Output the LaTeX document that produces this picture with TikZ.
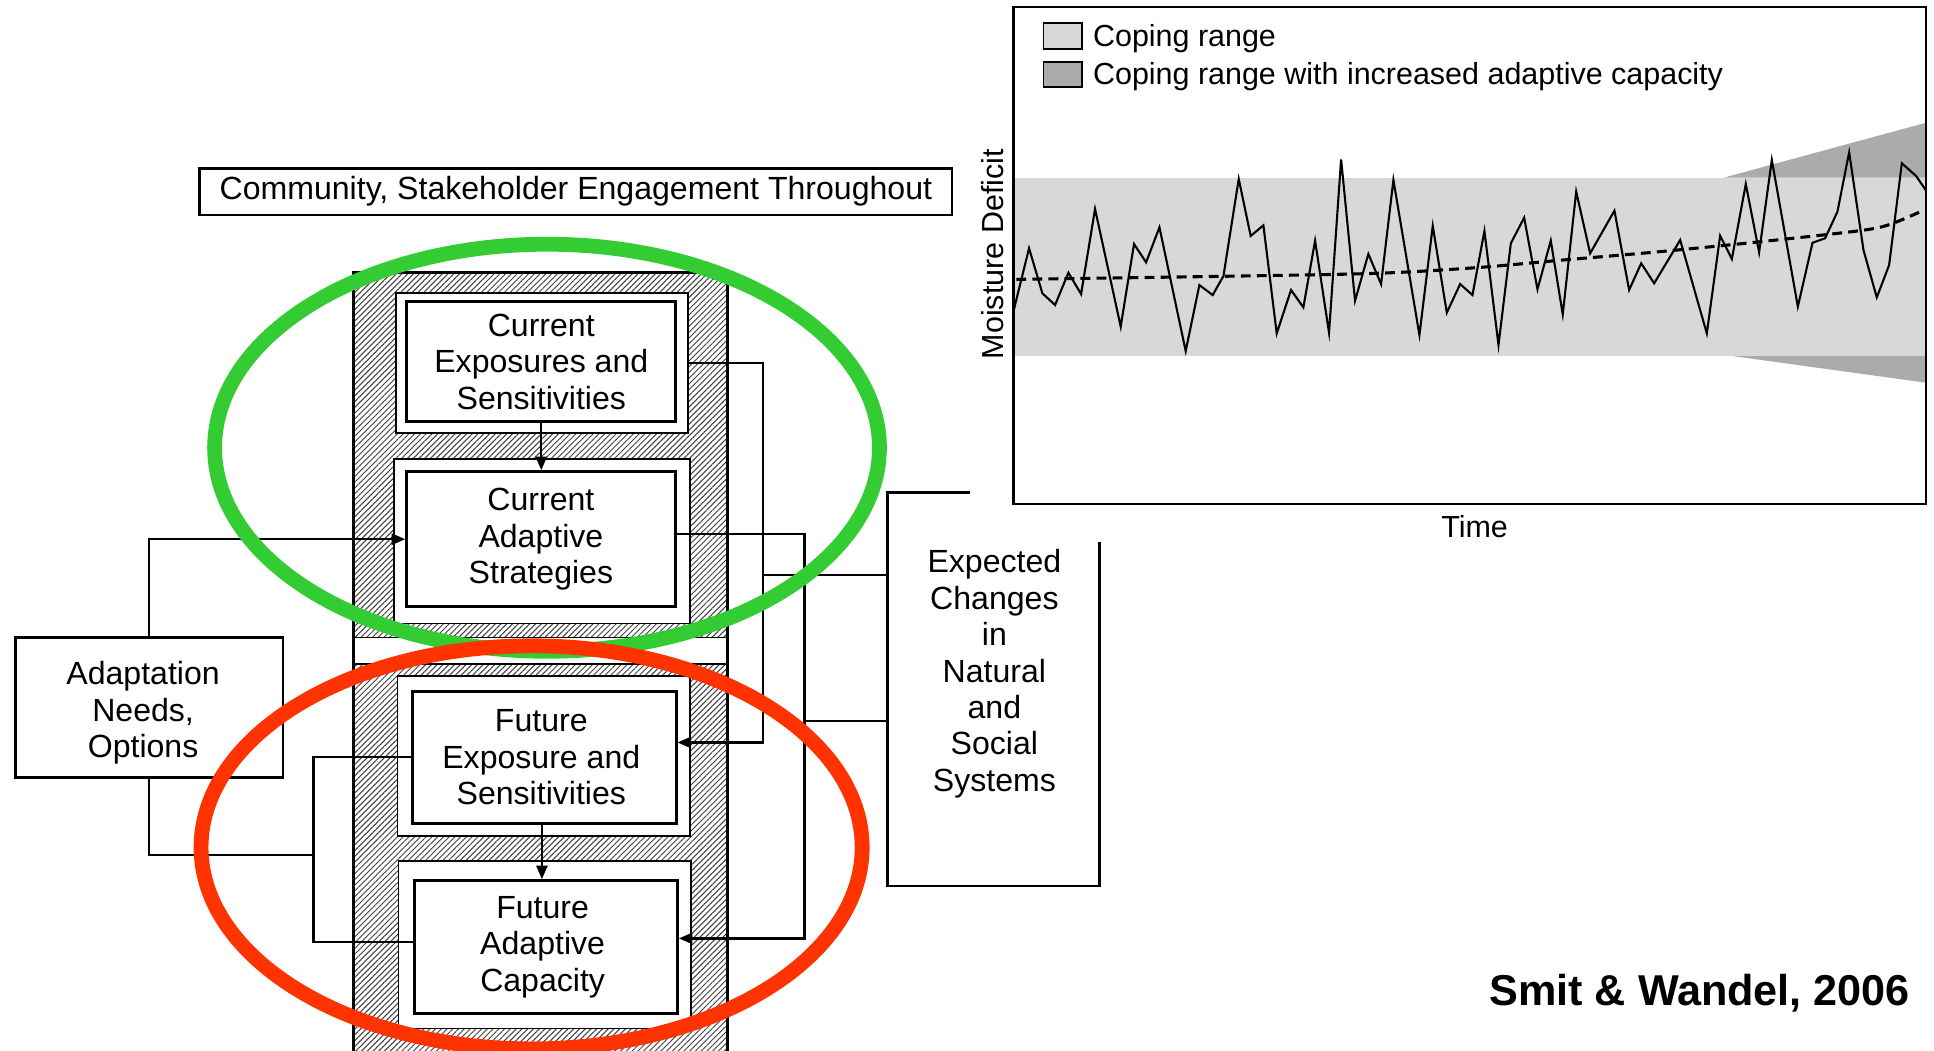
\documentclass[tikz,border=0pt]{standalone}
\usepackage{fontspec}
\setmainfont{Liberation Sans}
\usetikzlibrary{arrows.meta,patterns.meta,calc}
\definecolor{bandgray}{RGB}{216,216,216}
\definecolor{widegray}{RGB}{171,171,171}
\definecolor{ringgreen}{RGB}{51,204,51}
\definecolor{ringred}{RGB}{255,51,0}
\begin{document}
\begin{tikzpicture}[x=1bp,y=-1bp,
  txt/.style={font=\fontsize{26bp}{29.5bp}\selectfont, align=center, inner sep=0pt},
  panel/.style={draw, line width=1.4bp, fill=white, inner sep=0pt},
  ibox/.style={draw, line width=2.4bp, fill=white, txt},
  conn/.style={line width=1.8bp},
  arr/.style={-{Triangle[length=11bp,width=9bp]}},
  legendtext/.style={font=\fontsize{24.7bp}{28bp}\selectfont, inner sep=0pt}
]
\useasboundingbox (0,0) rectangle (1568,851.3);
\fill[white] (0,0) rectangle (1568,851.3);

% title
\node[draw, line width=2bp, minimum width=610.2bp, minimum height=37.8bp, txt] (title) at (466.9,155.4) {Community, Stakeholder Engagement Throughout};

% hatched column
\path[pattern={Lines[angle=45,distance=3.3bp,line width=0.8bp]}, pattern color=black!75] (286.5,221.1) rectangle (590,860);
\fill[white] (286.5,516.8) rectangle (590,538.5);
\draw[line width=1.4bp] (286.5,516.8) -- (590,516.8) (286.5,538.5) -- (590,538.5);
\draw[line width=2.4bp] (286.5,860) -- (286.5,221.1) -- (590,221.1) -- (590,860);

% panels
\node[panel, minimum width=236.5bp, minimum height=113bp] (p1) at (439.35,294.3) {};
\node[panel, minimum width=240bp, minimum height=133.2bp] (p2) at (439.5,438.8) {};
\node[panel, minimum width=237.3bp, minimum height=129.7bp] (p3) at (440.85,612.95) {};
\node[panel, minimum width=237bp, minimum height=136bp] (p4) at (441.5,765.8) {};

% inner boxes
\node[ibox, minimum width=218.1bp, minimum height=97.3bp] (ce) at (438.85,293.25) {Current\\Exposures and\\Sensitivities};
\node[ibox, minimum width=217.5bp, minimum height=109.5bp] (ca) at (438.55,437.15) {Current\\Adaptive\\Strategies};
\node[ibox, minimum width=213.5bp, minimum height=107.3bp] (fe) at (441.35,613.95) {\hspace*{-5bp}Future\\\hspace*{-5bp}Exposure and\\\hspace*{-5bp}Sensitivities};
\node[ibox, minimum width=213.5bp, minimum height=107.6bp] (fa) at (442.45,767.8) {\hspace*{-5bp}Future\\\hspace*{-5bp}Adaptive\\\hspace*{-5bp}Capacity};

% side boxes
\node[draw, line width=2bp, minimum width=216.5bp, minimum height=113.8bp] (ad) at (121,573.6) {};
\node[txt] (adt) at (116,578) {Adaptation\\Needs,\\Options};
\node[draw, line width=2bp, minimum width=171.8bp, minimum height=319.2bp] (ex) at (805.4,558.8) {};
\node[txt] (ext) at (806.2,546.3) {Expected\\Changes\\in\\Natural\\and\\Social\\Systems};

% helper coordinates
\coordinate (v1) at (618.4,0);
\coordinate (v2) at (652.2,0);
\coordinate (v3) at (254.1,0);
\coordinate (h1) at (0,693.2);
\coordinate (feIn) at ([yshift=12bp]fe.east);
\coordinate (caOut) at ([yshift=4bp]ca.east);
\coordinate (faIn) at ([yshift=7bp]fa.east);
\coordinate (faOut) at ([yshift=4.3bp]fa.west);
\coordinate (exA) at ([yshift=92.6bp]ex.west);
\coordinate (exB) at ([yshift=-25.5bp]ex.west);

% connectors
\draw[conn, arr] (ce.south) -- (ce.south |- ca.north);
\draw[conn, arr] ([xshift=-2bp]fe.south) -- ([xshift=-2bp]fe.south |- fa.north);
\draw[conn, arr] (p1.east) -- (v1 |- p1.east) -- (v1 |- feIn) -- (feIn);
\draw[conn, arr] (caOut) -- (v2 |- caOut) -- (v2 |- faIn) -- (faIn);
\draw[conn] (exA) -- (v1 |- exA);
\draw[conn] (exB) -- (v2 |- exB);
\draw[conn, arr] (ad.north) |- (ca.west);
\draw[conn] (ad.south) |- (v3 |- h1);
\draw[conn] (fe.west) -- (v3 |- fe.west) -- (v3 |- faOut) -- (faOut);

% chart background (covers part of the expected-changes box)
\fill[white] (786.5,-2) rectangle (1570,439.7);
\fill[bandgray] (821.6,144.1) rectangle (1561.6,288.7);
\fill[widegray] (1397.3,144.1) -- (1561.6,99.5) -- (1561.6,144.1) -- cycle;
\fill[widegray] (1405,288.7) -- (1561.6,310.3) -- (1561.6,288.7) -- cycle;
\draw[line width=1.7bp, line join=miter] plot coordinates {
(821.6,252.7) (834.3,201.3) (845.1,237.8) (855.4,247.3) (866.2,221.1) (876.5,238.4)
(887.8,169.4) (908.6,264.8) (919.4,197.8) (929.2,212.7) (940.0,184.3) (961.3,284.6)
(972.4,231.1) (983.2,239.2) (991.9,223.8) (1004.3,145.1) (1014.0,191.3) (1024.3,182.7)
(1035.1,270.3) (1046.7,235.1) (1056.7,249.2) (1066.2,195.1) (1077.5,269.7) (1087.3,129.2)
(1098.6,243.8) (1109.4,205.9) (1119.7,230.3) (1129.7,145.9) (1150.8,271.6) (1161.6,183.2)
(1173.0,253.5) (1183.8,230.3) (1193.8,239.2) (1203.5,187.3) (1214.9,279.7) (1224.9,197.3)
(1235.7,176.5) (1246.5,234.6) (1257.3,195.1) (1267.0,254.9) (1277.9,155.4) (1289.2,205.4)
(1308.9,170.8) (1320.8,235.1) (1330.6,213.5) (1341.1,229.7) (1362.2,194.6) (1383.8,270.3)
(1394.6,191.1) (1404.1,210.0) (1415.4,149.2) (1426.2,204.6) (1436.5,129.7) (1457.6,248.6)
(1469.5,196.8) (1479.7,193.2) (1489.7,171.6) (1499.2,123.5) (1510.8,202.7) (1521.6,241.1)
(1531.6,214.9) (1541.9,132.4) (1553.5,142.7) (1561.6,154.6)};
\draw[line width=2.5bp, dash pattern=on 8bp off 5bp] plot[smooth] coordinates {
(824,226.5) (992,224) (1116,221.6) (1197,217) (1265,211) (1346,204) (1427,196) (1508,187) (1532,182) (1557,171.6)};
\draw[line width=1.8bp] (821.6,5.9) rectangle (1561.6,408.9);
\node[draw, line width=1.5bp, fill=bandgray, minimum width=31bp, minimum height=20.8bp, inner sep=0pt] (sw1) at (861.5,29.3) {};
\node[draw, line width=1.5bp, fill=widegray, minimum width=31bp, minimum height=20.8bp, inner sep=0pt] (sw2) at (861.5,60.4) {};
\node[legendtext, anchor=base west] (l1) at (886,37.8) {Coping range};
\node[legendtext, anchor=base west] (l2) at (886,68.9) {Coping range with increased adaptive capacity};
\node[legendtext, rotate=90, anchor=base] (ylab) at (813.5,206.1) {Moisture Deficit};
\node[legendtext, anchor=base] (xlab) at (1195.5,435.8) {Time};

% citation
\node[font=\fontsize{35bp}{40bp}\selectfont\bfseries, anchor=base east, inner sep=0pt] (cite) at (1548.7,815.4) {Smit \& Wandel, 2006};

% highlight rings
\draw[ringgreen, line width=12bp] (443.5,363) ellipse [x radius=269.5bp, y radius=165bp];
\draw[ringred, line width=12bp] (431,687) ellipse [x radius=268bp, y radius=163.4bp];
\end{tikzpicture}
\end{document}
